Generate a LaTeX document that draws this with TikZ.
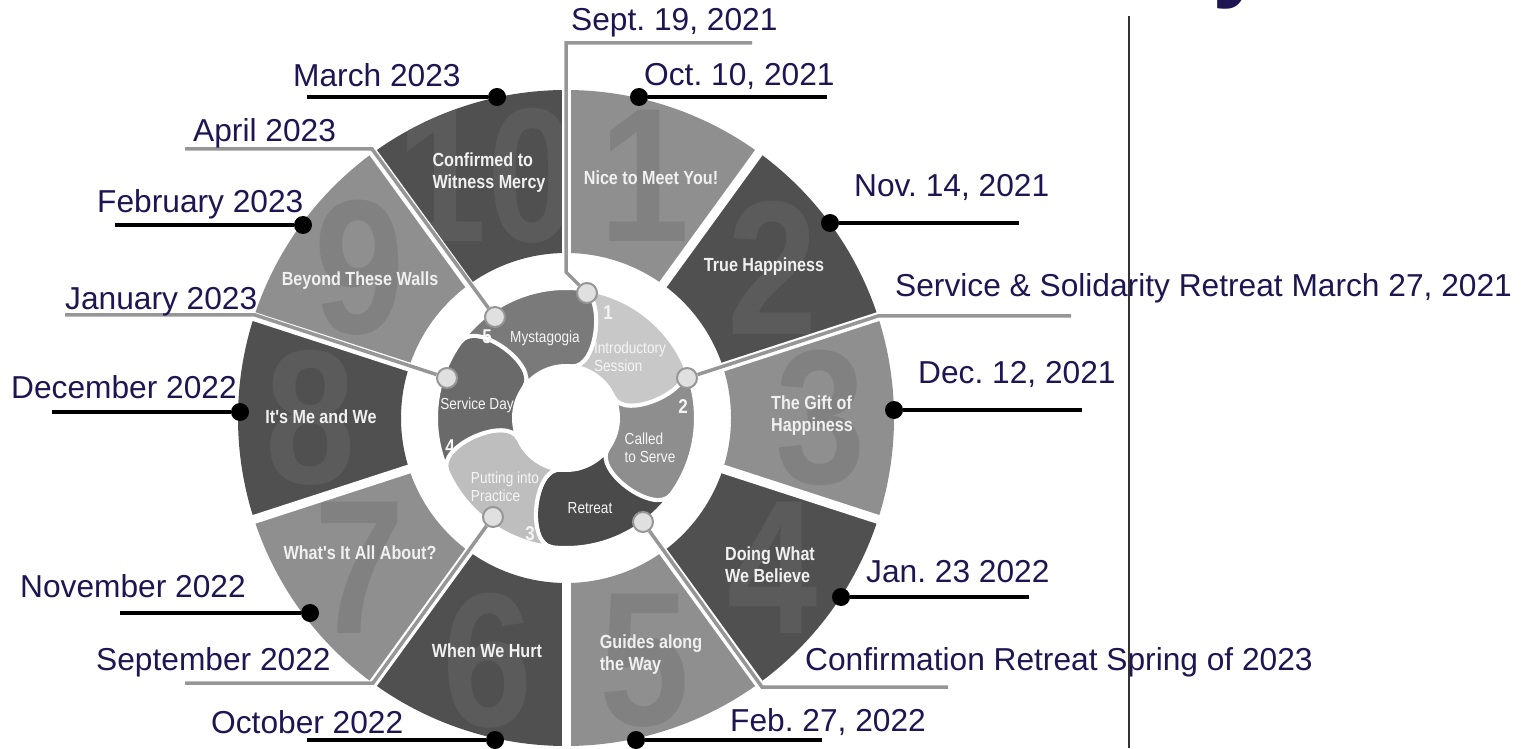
\documentclass[tikz,border=0pt]{standalone}
\usepackage{fontspec}
\setmainfont{Liberation Sans}
\newfontfamily\narrowfont[FakeStretch=0.85]{Liberation Sans}
\definecolor{datecol}{RGB}{30,22,82}
\definecolor{segL}{RGB}{143,143,143}
\definecolor{segD}{RGB}{80,80,80}
\definecolor{digL}{RGB}{129,129,129}
\definecolor{digD}{RGB}{91,91,91}
\definecolor{blobA}{RGB}{200,200,200}
\definecolor{blobB}{RGB}{142,142,142}
\definecolor{blobC}{RGB}{74,74,74}
\definecolor{blobD}{RGB}{190,190,190}
\definecolor{blobE}{RGB}{106,106,106}
\definecolor{blobF}{RGB}{122,122,122}
\definecolor{leadgray}{RGB}{150,150,150}
\tikzset{
datelabel/.style={text=datecol, font=\fontsize{31.7}{36}\selectfont, inner sep=0pt, anchor=base west}, % the dates round the wheel
segtext/.style={text=white!94!black, font=\narrowfont\bfseries\fontsize{19}{22}\selectfont, align=left, inner sep=0pt}, % titles on the ten sectors
blobtext/.style={text=white!96!black, font=\narrowfont\fontsize{16}{18}\selectfont, align=left, inner sep=0pt}, % titles on the inner pieces
blobnum/.style={text=white!96!black, font=\narrowfont\bfseries\fontsize{20}{20}\selectfont, inner sep=0pt},
bignum/.style={font=\narrowfont\bfseries\fontsize{191}{191}\selectfont, inner sep=0pt}, % faint sector numbers
blackdot/.style={circle, fill=black, minimum size=18pt, inner sep=0pt},
graydot/.style={circle, fill=white!88!black, draw=leadgray, line width=2pt, minimum size=20pt, inner sep=0pt},
blackline/.style={line width=4pt, black},
grayline/.style={line width=3.5pt, leadgray},
}
\begin{document}
\frenchspacing
\begin{tikzpicture}[x=1pt, y=1pt]
  \useasboundingbox (0,0) rectangle (1528,748);
  \coordinate (c) at (566,330);

  % outer ring
  \begin{scope}[shift={(c)}]
    \foreach \k/\col/\dig in {1/segL/digL, 2/segD/digD, 3/segL/digL, 4/segD/digD, 5/segL/digL,
                              6/segD/digD, 7/segL/digL, 8/segD/digD, 9/segL/digL, 10/segD/digD}{
      \pgfmathsetmacro\a{90-36*(\k-1)}
      \begin{scope}
        \clip (\a:328) arc[start angle=\a, end angle=\a-36, radius=328]
          -- (\a-36:165) arc[start angle=\a-36, end angle=\a, radius=165] -- cycle;
        \fill[\col] (0,0) circle[radius=330];
        \node[bignum, text=\dig] (num\k) at (\a-18:255) {\k};
      \end{scope}
    }
    \foreach \a in {90,54,...,-234}
      \draw[white, line width=9pt] (\a:160) -- (\a:335);
  \end{scope}

  % inner pieces
  \begin{scope}[shift={(c)}]
    \foreach \s/\col in {84/blobA, 24/blobB, -36/blobC, -96/blobD, -156/blobE, 144/blobF}{
      \pgfmathsetmacro\e{\s-60}
      \filldraw[fill=\col, draw=white, line width=4pt] (\s:130)
        arc[start angle=\s, end angle=\e, radius=130]
        .. controls +(\e-90:27) and +(\e-90:27) .. (\e:52)
        arc[start angle=\e, end angle=\s, radius=52]
        .. controls +(\s-90:27) and +(\s-90:27) .. (\s:130) -- cycle;
    }
  \end{scope}

  \node[segtext] (s1) at (651,570) {Nice to Meet You!};
  \node[segtext] (s2) at (764,481) {True Happiness};
  \node[segtext] (s3) at (812,332) {The Gift of\\Happiness};
  \node[segtext] (s4) at (770,183) {Doing What\\We Believe};
  \node[segtext] (s5) at (651,93) {Guides along\\the Way};
  \node[segtext] (s6) at (487,97) {When We Hurt};
  \node[segtext] (s7) at (360,195) {What's It All About?};
  \node[segtext] (s8) at (321,331) {It's Me and We};
  \node[segtext] (s9) at (360,467) {Beyond These Walls};
  \node[segtext] (s10) at (489,575) {Confirmed to\\Witness Mercy};

  \node[blobtext] (b1) at (630,391) {Introductory\\Session};
  \node[blobtext] (b2) at (650,300) {Called\\to Serve};
  \node[blobtext] (b3) at (590,240) {Retreat};
  \node[blobtext] (b4) at (505,261) {Putting into\\Practice};
  \node[blobtext] (b5) at (477,343) {Service Day};
  \node[blobtext] (b6) at (545,410) {Mystagogia};
  \node[blobnum] (k1) at (608,435) {1};
  \node[blobnum] (k2) at (683,341) {2};
  \node[blobnum] (k3) at (530,214) {3};
  \node[blobnum] (k4) at (450,301) {4};
  \node[blobnum] (k5) at (487,411) {5};

  % gray leaders from the inner pieces
  \node[graydot] (g1) at (587,455) {};
  \node[graydot] (g2) at (687,370) {};
  \node[graydot] (g3) at (643,226) {};
  \node[graydot] (g4) at (493,231) {};
  \node[graydot] (g5) at (447,370) {};
  \node[graydot] (g6) at (495,431) {};
  \coordinate (g1a) at (566,476); \coordinate (g1b) at (566,705); \coordinate (g1c) at (752,705);
  \coordinate (g2a) at (878,432); \coordinate (g2b) at (1071,432);
  \coordinate (g3a) at (762,61);  \coordinate (g3b) at (948,61);
  \coordinate (g4a) at (373,65);  \coordinate (g4b) at (185,65);
  \coordinate (g5a) at (255,433); \coordinate (g5b) at (65,433);
  \coordinate (g6a) at (372,599); \coordinate (g6b) at (185,599);
  \draw[grayline] (g1) -- (g1a) -- (g1b) -- (g1c);
  \draw[grayline] (g2) -- (g2a) -- (g2b);
  \draw[grayline] (g3) -- (g3a) -- (g3b);
  \draw[grayline] (g4) -- (g4a) -- (g4b);
  \draw[grayline] (g5) -- (g5a) -- (g5b);
  \draw[grayline] (g6) -- (g6a) -- (g6b);
  \node[datelabel] (t1) at (571,717) {Sept. 19, 2021};
  \node[datelabel] (t2) at (895,451) {Service \& Solidarity Retreat March 27, 2021};
  \node[datelabel] (t3) at (805,78) {Confirmation Retreat Spring of 2023};
  \node[datelabel] (t4) at (96,78) {September 2022};
  \node[datelabel] (t5) at (65,438) {January 2023};
  \node[datelabel] (t6) at (193,606) {April 2023};

  % black leaders from the outer ring
  \node[blackdot] (d1) at (639,651) {};  \coordinate (d1e) at (827,651);
  \node[blackdot] (d2) at (830,525) {};  \coordinate (d2e) at (1019,525);
  \node[blackdot] (d3) at (894,338) {};  \coordinate (d3e) at (1082,338);
  \node[blackdot] (d4) at (841,151) {};  \coordinate (d4e) at (1029,151);
  \node[blackdot] (d5) at (636,8) {};    \coordinate (d5e) at (822,8);
  \node[blackdot] (d6) at (495,8) {};    \coordinate (d6e) at (307,8);
  \node[blackdot] (d7) at (310,135) {};  \coordinate (d7e) at (120,135);
  \node[blackdot] (d8) at (240,336) {};  \coordinate (d8e) at (52,336);
  \node[blackdot] (d9) at (303,523) {};  \coordinate (d9e) at (115,523);
  \node[blackdot] (d10) at (497,651) {}; \coordinate (d10e) at (307,651);
  \foreach \i in {1,...,10}
    \draw[blackline] (d\i) -- (d\i e);
  \node[datelabel] (u1) at (644,662) {Oct. 10, 2021};
  \node[datelabel] (u2) at (854,551) {Nov. 14, 2021};
  \node[datelabel] (u3) at (918,365) {Dec. 12, 2021};
  \node[datelabel] (u4) at (866,166) {Jan. 23 2022};
  \node[datelabel] (u5) at (730,17) {Feb. 27, 2022};
  \node[datelabel] (u6) at (211,15) {October 2022};
  \node[datelabel] (u7) at (20,151) {November 2022};
  \node[datelabel] (u8) at (11,350) {December 2022};
  \node[datelabel] (u9) at (97,535) {February 2023};
  \node[datelabel] (u10) at (293,661) {March 2023};

  % divider and the cut title
  \coordinate (v1) at (1129,732);
  \coordinate (v2) at (1129,0);
  \draw[line width=2.5pt, black!80] (v1) -- (v2);
  \node[text=datecol, font=\bfseries\fontsize{100}{100}\selectfont, anchor=base west, inner sep=0pt] (ttl) at (1212,759.5) {y};
\end{tikzpicture}
\end{document}
